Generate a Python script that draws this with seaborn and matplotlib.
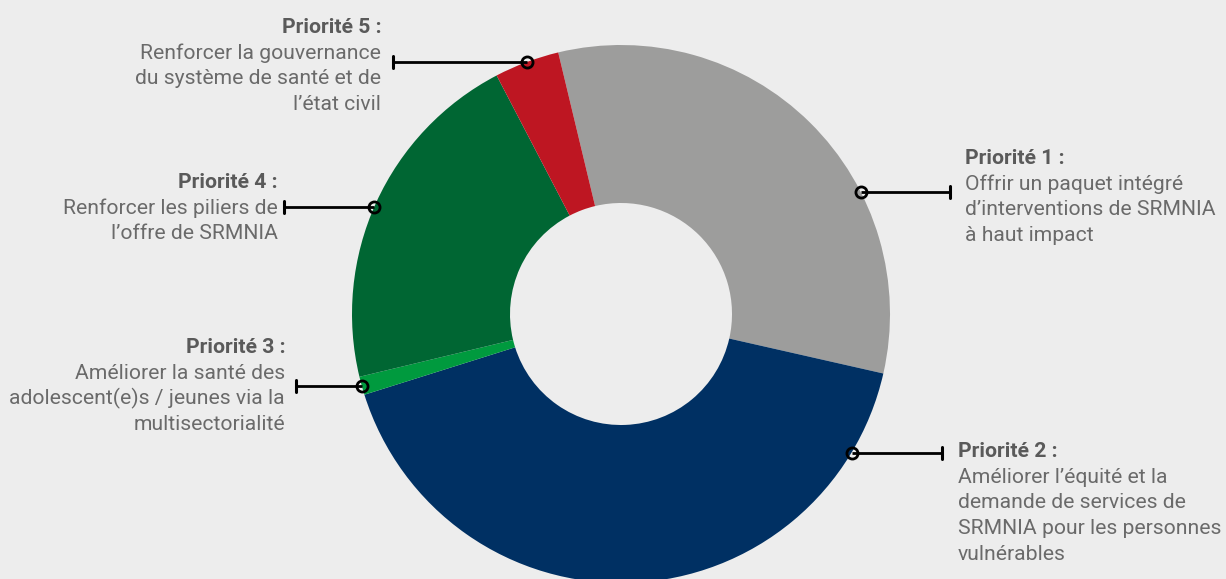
import numpy as np
import matplotlib
matplotlib.use("Agg")
import matplotlib.pyplot as plt
import seaborn as sns

# share of each priority, clockwise from the top
priorities = ["Priorité 1 :", "Priorité 2 :", "Priorité 3 :", "Priorité 4 :", "Priorité 5 :"]
shares = [32.3, 41.6, 1.1, 21.1, 3.9]
descriptions = [
    ["Offrir un paquet intégré", "d\u2019interventions de SRMNIA", "à haut impact"],
    ["Améliorer l\u2019équité et la", "demande de services de",
     "SRMNIA pour les personnes", "vulnérables"],
    ["Améliorer la santé des", "adolescent(e)s / jeunes via la", "multisectorialité"],
    ["Renforcer les piliers de", "l\u2019offre de SRMNIA"],
    ["Renforcer la gouvernance", "du système de santé et de", "l\u2019état civil"],
]
colors = ["#9d9d9c", "#003063", "#009a3e", "#006633", "#be1622"]

BG = "#ededed"
W, H = 1226, 579
CX, CY = 621, 579 - 314
R_OUT, R_IN = 269, 111
START = 103.5

sns.set_theme(style="white", rc={"figure.facecolor": BG, "axes.facecolor": BG})
plt.rcParams["font.family"] = ["Roboto", "DejaVu Sans"]

fig = plt.figure(figsize=(W / 100, H / 100), dpi=100)
ax = fig.add_axes([0, 0, 1, 1])

wedges, _ = ax.pie(shares, colors=colors, startangle=START, counterclock=False,
                   radius=R_OUT, center=(CX, CY),
                   wedgeprops=dict(width=R_OUT - R_IN, linewidth=0))
ax.set_xlim(0, W)
ax.set_ylim(0, H)
ax.set_aspect("equal")
ax.axis("off")

# label layout: anchor angle (None = middle of the wedge), end of leader line,
# text x, first baseline (image px), alignment
layout = [
    (27, 950, 965, 164, "left"),
    (-31, 942, 958, 457, "left"),
    (None, 296, 285, 353, "right"),
    (156.5, 284, 278, 188, "right"),
    (None, 393, 381, 33, "right"),
]

for w, name, desc, (ang, x_end, tx, ty, ha) in zip(wedges, priorities, descriptions, layout):
    if ang is None:
        ang = (w.theta1 + w.theta2) / 2
    px = CX + R_OUT * np.cos(np.radians(ang))
    py = CY + R_OUT * np.sin(np.radians(ang))
    ax.plot([px, x_end], [py, py], color="black", lw=2, solid_capstyle="butt", zorder=3)
    ax.plot([x_end, x_end], [py - 6, py + 6], color="black", lw=2.2, zorder=3)
    ax.plot(px, py, "o", ms=8, mfc="none", mec="black", mew=2, zorder=4)

    ax.text(tx, H - ty, name, ha=ha, va="baseline", fontsize=15.2,
            fontweight="bold", color="#5a5a5a")
    for i, line in enumerate(desc, start=1):
        ax.text(tx, H - (ty + 25.7 * i), line, ha=ha, va="baseline",
                fontsize=15.2, color="#6a6a6a")

fig.savefig("out.png", dpi=100, facecolor=BG)
